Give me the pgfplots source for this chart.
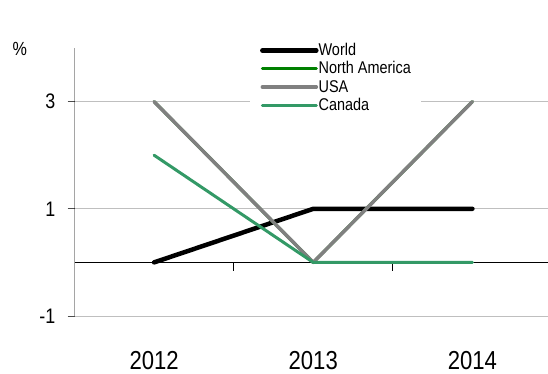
\documentclass[border=0pt]{standalone}
\usepackage{fontspec}
\setmainfont{Liberation Sans}[FakeStretch=0.85]
\usepackage{pgfplots}
\pgfplotsset{compat=1.18}
\definecolor{nagreen}{RGB}{0,128,0}
\definecolor{usagray}{RGB}{128,128,128}
\definecolor{cangreen}{RGB}{51,153,102}
\definecolor{gridgray}{RGB}{191,191,191}
\begin{document}
\begin{tikzpicture}
\path[use as bounding box] (0,0) rectangle (548bp,-374bp);
\begin{axis}[
  at={(74.5bp,-316bp)}, anchor=south west,
  scale only axis, width=473.5bp, height=268bp,
  xmin=-0.5, xmax=2.475, ymin=-1, ymax=4,
  axis line style={draw=none},
  xtick={0,1,2}, xticklabels={2012,2013,2014},
  xtick style={draw=none},
  xticklabel style={anchor=base, yshift=-46.7bp, font=\fontsize{26bp}{30bp}\selectfont},
  ytick={-1,1,3}, yticklabels={-1,1,3},
  ytick pos=left, tick align=outside, major tick length=7bp,
  ytick style={draw=black!70, line width=0.8bp},
  yticklabel style={anchor=east, inner sep=0pt, xshift=-12bp, font=\fontsize{21bp}{24bp}\selectfont},
  ymajorgrids, grid style={gridgray, line width=1bp},
  legend style={at={(axis cs:0.602,4.117)}, anchor=north west, draw=none, fill=white,
    inner xsep=10bp, inner ysep=1bp, row sep=3.3bp,
    font=\fontsize{17bp}{20bp}\selectfont,
    nodes={inner sep=0pt, text height=12.5bp, text depth=2.5bp},
    /tikz/every even column/.append style={column sep=2bp}},
  legend cell align=left,
  legend image code/.code={\draw[#1] (0bp,0bp) -- (54bp,0bp);},
  every axis plot/.append style={line cap=round, line join=round},
]
\draw[black, line width=1bp] (axis cs:-0.5,0) -- (axis cs:2.475,0);
\draw[black, line width=1bp] (axis cs:0.5,0) -- ([yshift=-9bp]axis cs:0.5,0);
\draw[black, line width=1bp] (axis cs:1.5,0) -- ([yshift=-9bp]axis cs:1.5,0);
\draw[black, line width=1bp] (axis cs:-0.5,-1) -- (axis cs:-0.5,4);
\addplot[black, line width=4.5bp] coordinates {(0,0) (1,1) (2,1)};
\addlegendentry{World}
\addplot[nagreen, line width=3bp] coordinates {(0,3) (1,0) (2,3)};
\addlegendentry{North America}
\addplot[usagray, line width=3.5bp] coordinates {(0,3) (1,0) (2,3)};
\addlegendentry{USA}
\addplot[cangreen, line width=3bp] coordinates {(0,2) (1,0) (2,0)};
\addlegendentry{Canada}
\end{axis}
\node[font=\fontsize{19bp}{22bp}\selectfont] at (19.7bp,-49bp) {\%};
\end{tikzpicture}
\end{document}
